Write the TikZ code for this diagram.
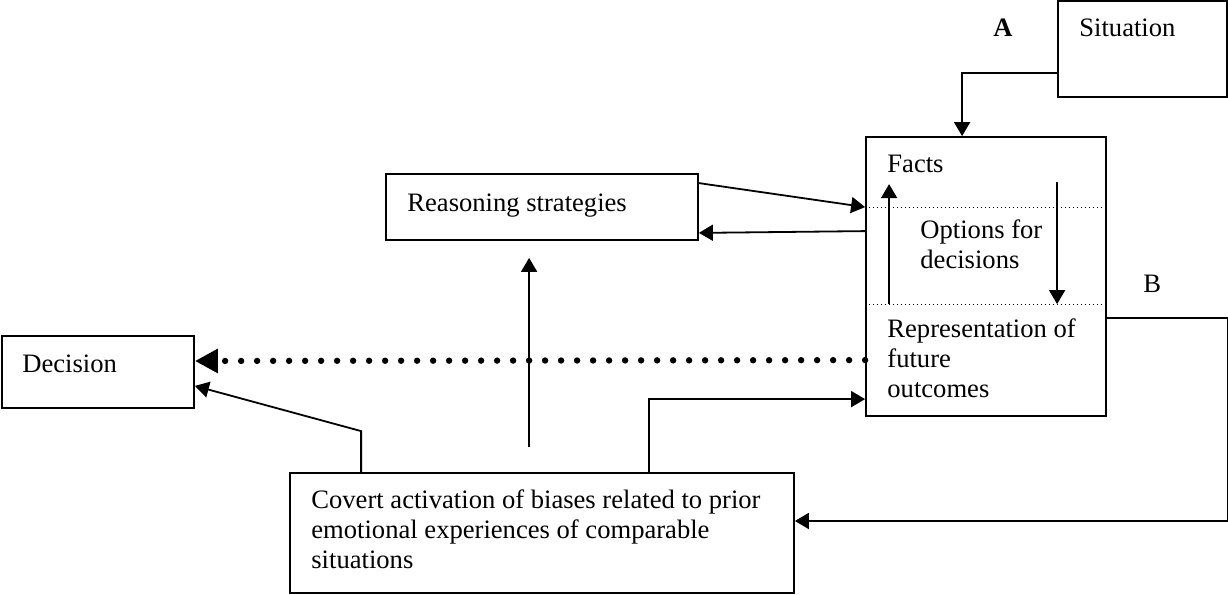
\documentclass[tikz,border=0pt]{standalone}
\usepackage{fontspec}
\setmainfont{Liberation Serif}
\usetikzlibrary{arrows.meta}

\begin{document}
\begin{tikzpicture}[x=0.5pt,y=-0.5pt,
  box/.style={draw,line width=0.9pt,inner sep=0pt},
  txt/.style={anchor=base west,inner sep=0pt,align=left,font=\fontsize{13.3}{15}\selectfont},
  arr/.style={line width=0.9pt,-{Triangle[length=7pt,width=8pt]}},
  sep/.style={line width=0.5pt,dash pattern=on 0.6pt off 1.4pt},
  dots/.style={line width=3.2pt,line cap=round,dash pattern=on 0pt off 8pt,-{Triangle[length=11.5pt,width=11.5pt]}}]
          \useasboundingbox (0,0) rectangle (1228,595);
          \node[box,minimum width=84.5pt,minimum height=48pt] (sit) at (1142.5,49) {};
          \node[box,minimum width=120pt,minimum height=139.5pt] (main) at (986,276.5) {};
          \node[box,minimum width=156pt,minimum height=33pt] (rs) at (542,207) {};
          \node[box,minimum width=96pt,minimum height=36pt] (dec) at (98,372) {};
          \node[box,minimum width=252pt,minimum height=60pt] (cov) at (542,533) {};
          \node[txt] (sitl) at (1079,36) {Situation};
          \node[txt] (lbA) at (993,36) {\textbf{A}};
          \node[txt] (lbB) at (1143,292) {B};
          \node[txt] (facts) at (887,172) {Facts};
          \node[txt] (opts) at (920,268) {Options for\\decisions};
          \node[txt] (repr) at (887,397) {Representation of\\future\\outcomes};
          \node[txt] (rsl) at (407,211) {Reasoning strategies};
          \node[txt] (decl) at (22,372) {Decision};
          \node[txt] (covl) at (311,568) {Covert activation of biases related to prior\\emotional experiences of comparable\\situations};
          \draw[sep] ([yshift=-35.5pt]main.north west) -- ([yshift=-35.5pt]main.north east);
          \draw[sep] ([yshift=-84pt]main.north west) -- ([yshift=-84pt]main.north east);
          \draw[arr] ([xshift=12pt,yshift=-84pt]main.north west) -- ([xshift=12pt,yshift=-24pt]main.north west);
          \draw[arr] ([xshift=96pt,yshift=-23pt]main.north west) -- ([xshift=96pt,yshift=-84pt]main.north west);
          \draw[arr] ([yshift=12.5pt]sit.south west) -| ([xshift=48.5pt]main.north west);
          \draw[arr] ([yshift=-5pt]rs.north east) -- ([yshift=-35.5pt]main.north west);
          \draw[arr] ([yshift=-47.5pt]main.north west) -- ([yshift=4pt]rs.south east);
          \draw[arr] ([xshift=120pt,yshift=12.5pt]cov.north west) -- ([xshift=72pt,yshift=-8.5pt]rs.south west);
          \draw[arr] ([xshift=180pt]cov.north west) |- ([yshift=-131.5pt]main.north west);
          \draw[arr] ([xshift=36pt]cov.north west) -- ++(0,-41) -- ([yshift=11.5pt]dec.south east);
          \draw[arr] ([yshift=-91pt]main.north east) -- ++(121,0) |- ([yshift=6pt]cov.east);
          \draw[dots] ([yshift=-112pt]main.north west) -- ([yshift=5.5pt]dec.east);
        \end{tikzpicture}
\end{document}
